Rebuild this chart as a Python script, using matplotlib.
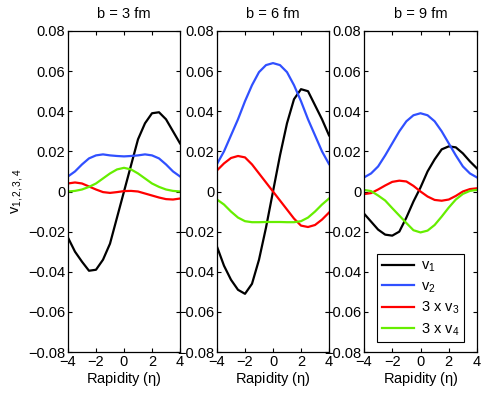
import matplotlib
matplotlib.use("Agg")
import matplotlib.pyplot as plt
import numpy as np

plt.rcParams['font.family'] = ['Liberation Sans', 'DejaVu Sans']
plt.rcParams['mathtext.fontset'] = 'custom'
plt.rcParams['mathtext.rm'] = 'Liberation Sans'
plt.rcParams['mathtext.it'] = 'Liberation Sans'
plt.rcParams['font.size'] = 10

eta = [-4, -3.5, -3, -2.5, -2, -1.5, -1, -0.5, 0, 0.5, 1, 1.5, 2, 2.5, 3, 3.5, 4]
titles = ["b = 3 fm", "b = 6 fm", "b = 9 fm"]
labels = [r"v$_1$", r"v$_2$", r"3 x v$_3$", r"3 x v$_4$"]
xticks = [-4, -2, 0, 2, 4]
yticks = [-0.08, -0.06, -0.04, -0.02, 0, 0.02, 0.04, 0.06, 0.08]
ytick_labels = ["\u22120.08", "\u22120.06", "\u22120.04", "\u22120.02", "0", "0.02", "0.04", "0.06", "0.08"]

# b = 3 fm
v1_b3 = [-0.023, -0.030, -0.035, -0.0395, -0.039, -0.034, -0.026, -0.013, 0.0, 0.013, 0.026, 0.034, 0.039, 0.0395, 0.036, 0.030, 0.024]
v2_b3 = [0.0075, 0.010, 0.0135, 0.0165, 0.018, 0.0185, 0.018, 0.0177, 0.0175, 0.0177, 0.018, 0.0185, 0.018, 0.0165, 0.0135, 0.010, 0.0075]
v3_b3 = [0.004, 0.0045, 0.004, 0.0025, 0.001, -0.0003, -0.0007, -0.0003, 0.0002, 0.0003, 0.0, -0.001, -0.002, -0.003, -0.0038, -0.004, -0.0035]
v4_b3 = [0.0, 0.0003, 0.001, 0.0023, 0.004, 0.0065, 0.009, 0.011, 0.0118, 0.011, 0.009, 0.0065, 0.004, 0.0023, 0.001, 0.0003, 0.0]

# b = 6 fm
v1_b6 = [-0.0275, -0.037, -0.044, -0.049, -0.051, -0.046, -0.034, -0.018, 0.0, 0.018, 0.034, 0.046, 0.051, 0.050, 0.043, 0.036, 0.028]
v2_b6 = [0.0137, 0.020, 0.028, 0.036, 0.045, 0.053, 0.0595, 0.063, 0.064, 0.063, 0.0595, 0.053, 0.045, 0.036, 0.028, 0.020, 0.0137]
v3_b6 = [0.0105, 0.014, 0.0167, 0.0177, 0.017, 0.0135, 0.009, 0.0045, 0.0, -0.0045, -0.009, -0.0135, -0.017, -0.0177, -0.0167, -0.014, -0.0105]
v4_b6 = [-0.004, -0.0065, -0.010, -0.013, -0.0148, -0.0153, -0.0153, -0.0152, -0.0152, -0.0152, -0.0153, -0.0153, -0.0148, -0.013, -0.010, -0.0065, -0.0035]

# b = 9 fm
v1_b9 = [-0.011, -0.015, -0.019, -0.0215, -0.022, -0.020, -0.013, -0.005, 0.002, 0.010, 0.016, 0.021, 0.0225, 0.022, 0.019, 0.015, 0.0115]
v2_b9 = [0.007, 0.009, 0.0125, 0.018, 0.024, 0.030, 0.035, 0.038, 0.039, 0.038, 0.035, 0.030, 0.024, 0.018, 0.0125, 0.009, 0.007]
v3_b9 = [-0.0013, -0.0008, 0.001, 0.003, 0.0048, 0.0054, 0.005, 0.0028, 0.0, -0.0025, -0.0042, -0.0046, -0.004, -0.0022, 0.0, 0.0012, 0.0016]
v4_b9 = [0.0008, 0.0002, -0.002, -0.0045, -0.0083, -0.012, -0.0157, -0.0193, -0.0204, -0.0195, -0.0167, -0.0125, -0.008, -0.004, -0.0012, 0.0003, 0.0008]

panels = [
    (v1_b3, v2_b3, v3_b3, v4_b3),
    (v1_b6, v2_b6, v3_b6, v4_b6),
    (v1_b9, v2_b9, v3_b9, v4_b9),
]
colors = ["#000000", "#3050ff", "#ff0000", "#66ee00"]

W, H = 485, 395
fig = plt.figure(figsize=(W / 100, H / 100), dpi=100)
lefts = [68, 217, 364]
widths = [112, 112, 113]
top, bottom = 31, 352

axes = []
for i, (l, w) in enumerate(zip(lefts, widths)):
    ax = fig.add_axes([l / W, (H - bottom) / H, w / W, (bottom - top) / H])
    for series, c, lab in zip(panels[i], colors, labels):
        ax.plot(eta, series, color=c, lw=1.6, label=lab)
    ax.set_xlim(-4, 4)
    ax.set_ylim(-0.08, 0.08)
    ax.set_xticks(xticks)
    ax.set_xticklabels(["\u22124", "\u22122", "0", "2", "4"])
    ax.set_yticks(yticks)
    ax.set_yticklabels(ytick_labels)
    ax.tick_params(direction='in', top=True, right=True, length=3, width=0.8, labelsize=10.5, pad=2)
    ax.set_title(titles[i], fontsize=10.5, pad=9)
    ax.set_xlabel(r"Rapidity ($\eta$)", fontsize=10.5, labelpad=1)
    for s in ax.spines.values():
        s.set_linewidth(0.9)
    axes.append(ax)

axes[0].set_ylabel(r"v$_{1,2,3,4}$", fontsize=10.5, labelpad=2)

leg = axes[2].legend(loc='lower right', bbox_to_anchor=(0.885, 0.031), borderaxespad=0,
                     fontsize=10.5, handlelength=2.2, handletextpad=0.5, labelspacing=0.35,
                     fancybox=False, framealpha=1, edgecolor='black', borderpad=0.3)
leg.get_frame().set_linewidth(0.8)

fig.savefig("out.png", dpi=100)
